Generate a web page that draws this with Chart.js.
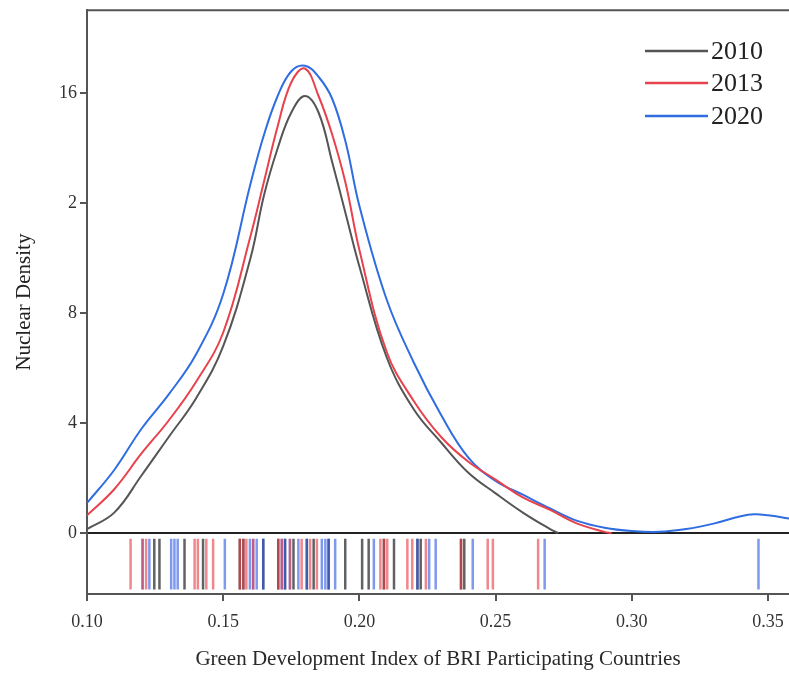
<!DOCTYPE html>
<html>
<head>
<meta charset="utf-8">
<script src="https://cdn.jsdelivr.net/npm/chart.js@4.4.0/dist/chart.umd.min.js"></script>
<style>
  html, body { margin: 0; padding: 0; background: #fff; }
  #wrap { width: 789px; height: 675px; }
</style>
</head>
<body>
<div id="wrap"><canvas id="c"></canvas></div>
<script>
// x grid for density curves
const xs2010 = [0.10, 0.11, 0.12, 0.13, 0.14, 0.15, 0.16, 0.165, 0.17, 0.175, 0.18, 0.185, 0.19, 0.195, 0.20, 0.21, 0.22, 0.23, 0.24, 0.25, 0.26, 0.27, 0.273];
const dens2010 = [0.15, 0.75, 2.1, 3.5, 4.9, 6.8, 10.0, 12.3, 14.0, 15.3, 15.9, 15.3, 13.5, 11.6, 9.7, 6.4, 4.5, 3.3, 2.2, 1.45, 0.75, 0.15, 0];

const xs2013 = [0.10, 0.11, 0.12, 0.13, 0.14, 0.15, 0.16, 0.165, 0.17, 0.175, 0.18, 0.185, 0.19, 0.195, 0.20, 0.21, 0.22, 0.23, 0.24, 0.25, 0.26, 0.27, 0.28, 0.29, 0.2926];
const dens2013 = [0.65, 1.6, 2.9, 4.1, 5.5, 7.3, 10.8, 12.8, 14.8, 16.4, 16.9, 15.9, 14.5, 12.7, 10.3, 6.6, 4.8, 3.5, 2.6, 1.95, 1.3, 0.85, 0.35, 0.05, 0];

const xs2020 = [0.10, 0.11, 0.12, 0.13, 0.14, 0.15, 0.16, 0.165, 0.17, 0.175, 0.18, 0.185, 0.19, 0.195, 0.20, 0.21, 0.22, 0.23, 0.24, 0.25, 0.26, 0.27, 0.28, 0.29, 0.30, 0.31, 0.32, 0.33, 0.34, 0.345, 0.35, 0.36];
const dens2020 = [1.1, 2.3, 3.8, 5.05, 6.5, 8.7, 12.7, 14.5, 15.9, 16.8, 17.0, 16.6, 15.8, 14.2, 11.9, 8.5, 6.2, 4.3, 2.75, 1.9, 1.4, 0.9, 0.45, 0.2, 0.08, 0.05, 0.15, 0.35, 0.62, 0.69, 0.65, 0.5];

// observed index values (rug marks)
const obs2010 = [0.1247, 0.1266, 0.1358, 0.1426, 0.1561, 0.1574, 0.1647, 0.1702, 0.1727, 0.1758, 0.1807, 0.1832, 0.1887, 0.1948, 0.2010, 0.2034, 0.2090, 0.2127, 0.2213, 0.2225, 0.2373, 0.2385];
const obs2013 = [0.1160, 0.1204, 0.1217, 0.1395, 0.1407, 0.1438, 0.1463, 0.1561, 0.1574, 0.1585, 0.1610, 0.1702, 0.1715, 0.1745, 0.1788, 0.1819, 0.1844, 0.2077, 0.2090, 0.2102, 0.2176, 0.2194, 0.2244, 0.2373, 0.2471, 0.2490, 0.2656];
const obs2020 = [0.1204, 0.1229, 0.1309, 0.1321, 0.1333, 0.1506, 0.1598, 0.1610, 0.1623, 0.1647, 0.1715, 0.1727, 0.1745, 0.1776, 0.1807, 0.1862, 0.1875, 0.1887, 0.1911, 0.2053, 0.2213, 0.2256, 0.2280, 0.2416, 0.2680, 0.3465];

const years = ['2010', '2013', '2020'];
const yTicks = [0, 4, 8, 12, 16];
const yTickLabels = ['0', '4', '8', '2', '16'];
const xTicks = [0.10, 0.15, 0.20, 0.25, 0.30, 0.35];

const colors = ['#555555', '#e8424c', '#2f6de0'];
const rugColors = ['rgba(45,45,45,0.75)', 'rgba(230,55,65,0.6)', 'rgba(40,85,225,0.6)'];
const SERIF = '"Liberation Serif", "Times New Roman", serif';

const curve = (xs, ys) => xs.map((x, i) => ({ x: x, y: ys[i] }));
const rug = (vals) => {
  const pts = [];
  vals.forEach(v => {
    pts.push({ x: v, y: -0.2 }, { x: v, y: -2.05 }, { x: v, y: null });
  });
  return pts;
};

const curveSet = (label, data, color) => ({
  label: label,
  data: data,
  borderColor: color,
  borderWidth: 2,
  pointRadius: 0,
  showLine: true,
  tension: 0.4,
  fill: false
});

const rugSet = (data, color) => ({
  label: 'rug',
  data: data,
  borderColor: color,
  borderWidth: 2.5,
  pointRadius: 0,
  showLine: true,
  tension: 0,
  spanGaps: false
});

const framePlugin = {
  id: 'frame',
  afterDraw(chart) {
    const { ctx, chartArea } = chart;
    ctx.save();
    ctx.strokeStyle = '#555';
    ctx.lineWidth = 2;
    ctx.beginPath();
    ctx.moveTo(chartArea.left, chartArea.top);
    ctx.lineTo(chartArea.right, chartArea.top);
    ctx.stroke();

    // legend
    ctx.font = '26px ' + SERIF;
    ctx.fillStyle = '#222';
    ctx.textBaseline = 'middle';
    const rows = [51, 83, 116];
    years.forEach((y, i) => {
      ctx.strokeStyle = colors[i];
      ctx.lineWidth = 2.5;
      ctx.beginPath();
      ctx.moveTo(645, rows[i]);
      ctx.lineTo(708, rows[i]);
      ctx.stroke();
      ctx.fillText(y, 711, rows[i] + 1);
    });
    ctx.restore();
  }
};

new Chart(document.getElementById('c'), {
  type: 'scatter',
  data: {
    datasets: [
      rugSet(rug(obs2013), rugColors[1]),
      rugSet(rug(obs2020), rugColors[2]),
      rugSet(rug(obs2010), rugColors[0]),
      curveSet(years[0], curve(xs2010, dens2010), colors[0]),
      curveSet(years[1], curve(xs2013, dens2013), colors[1]),
      curveSet(years[2], curve(xs2020, dens2020), colors[2])
    ]
  },
  options: {
    responsive: true,
    maintainAspectRatio: false,
    animation: false,
    layout: { padding: { top: 6, right: 0, left: 0, bottom: 0 } },
    plugins: {
      legend: { display: false },
      tooltip: { enabled: false }
    },
    scales: {
      x: {
        type: 'linear',
        min: 0.10,
        max: 0.3577,
        afterFit: (s) => { s.height = 81; s.paddingRight = 0; },
        afterBuildTicks: (s) => { s.ticks = xTicks.map(v => ({ value: v })); },
        border: { color: '#555', width: 2 },
        grid: { display: true, drawOnChartArea: false, tickLength: 7, tickColor: '#555', lineWidth: 2 },
        ticks: {
          color: '#333',
          padding: 10,
          maxRotation: 0,
          font: { family: SERIF, size: 18 },
          callback: (v) => Number(v).toFixed(2)
        },
        title: {
          display: true,
          text: 'Green Development Index of BRI Participating Countries',
          color: '#2a2a2a',
          font: { family: SERIF, size: 21 },
          padding: { top: 0, bottom: 3 }
        }
      },
      y: {
        min: -2.21,
        max: 19.02,
        afterFit: (s) => { s.width = 87; },
        afterBuildTicks: (s) => { s.ticks = yTicks.map(v => ({ value: v })); },
        border: { color: '#555', width: 2 },
        grid: {
          color: (c) => (c.tick && c.tick.value === 0) ? '#222' : 'rgba(0,0,0,0)',
          tickColor: '#555',
          lineWidth: 2,
          tickLength: 7
        },
        ticks: {
          color: '#333',
          padding: 3,
          font: { family: SERIF, size: 18, lineHeight: 0.8 },
          callback: (v) => yTickLabels[yTicks.indexOf(v)]
        },
        title: {
          display: true,
          text: 'Nuclear Density',
          color: '#222',
          font: { family: SERIF, size: 21 },
          padding: { top: 12, bottom: 0 }
        }
      }
    }
  },
  plugins: [framePlugin]
});
</script>
</body>
</html>
